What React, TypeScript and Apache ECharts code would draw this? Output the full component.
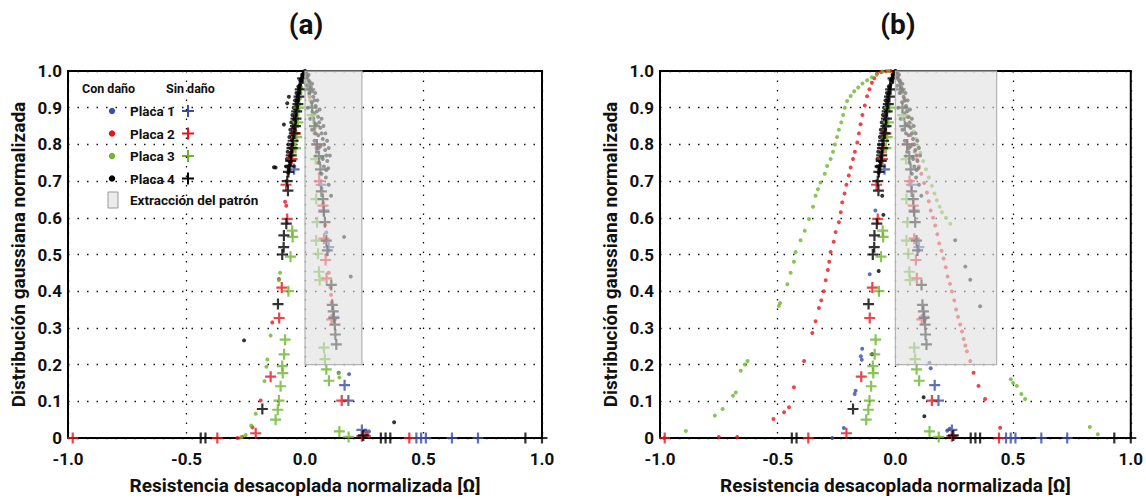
import React, { useEffect, useRef } from "react";
import * as echarts from "echarts";

// ---------- data ----------
const xTicks = ["-1.0", "-0.5", "0.0", "0.5", "1.0"];
const yTicks = ["0", "0.1", "0.2", "0.3", "0.4", "0.5", "0.6", "0.7", "0.8", "0.9", "1.0"];
const panelTitles = ["(a)", "(b)"];
const plateNames = ["Placa 1", "Placa 2", "Placa 3", "Placa 4"];
const patternBoxA = [0, 0.2, 0.24, 1.0];
const patternBoxB = [0, 0.2, 0.43, 1.0];

// Sin daño (crosses) – same in both panels
const blueCross = [[-0.046, 0.732], [0.068, 0.69], [0.079, 0.62], [0.1, 0.52], [0.122, 0.33], [0.167, 0.144], [0.183, 0.102], [0.24, 0.022], [0.47, 0], [0.49, 0], [0.51, 0], [0.62, 0], [0.73, 0]];
const redCross = [[-0.04, 0.83], [-0.05, 0.79], [-0.055, 0.76], [-0.08, 0.69], [-0.075, 0.597], [-0.098, 0.41], [-0.109, 0.327], [-0.145, 0.167], [-0.208, 0.013], [0.05, 0.8], [0.06, 0.7], [0.076, 0.633], [0.08, 0.543], [0.087, 0.485], [0.091, 0.435], [0.112, 0.323], [0.155, 0.102], [0.24, 0.005], [-0.98, 0], [-0.37, 0], [0.44, 0]];
const greenCross = [[-0.025, 0.9], [-0.03, 0.86], [-0.035, 0.82], [-0.04, 0.79], [-0.054, 0.565], [-0.052, 0.548], [-0.061, 0.494], [-0.07, 0.4], [-0.084, 0.268], [-0.088, 0.228], [-0.096, 0.196], [-0.094, 0.177], [-0.103, 0.141], [-0.11, 0.102], [-0.115, 0.077], [-0.124, 0.05], [0.03, 0.88], [0.045, 0.76], [0.047, 0.651], [0.051, 0.588], [0.047, 0.538], [0.055, 0.502], [0.059, 0.453], [0.062, 0.43], [0.08, 0.246], [0.084, 0.215], [0.09, 0.187], [0.101, 0.156], [0.145, 0.018], [0.184, 0.003]];
const blackCross = [[-0.01, 0.98], [-0.02, 0.95], [-0.025, 0.93], [-0.03, 0.91], [-0.035, 0.89], [-0.038, 0.87], [-0.04, 0.85], [-0.045, 0.83], [-0.05, 0.81], [-0.055, 0.79], [-0.058, 0.77], [-0.06, 0.755], [-0.065, 0.74], [-0.07, 0.725], [-0.075, 0.7], [-0.072, 0.674], [-0.079, 0.584], [-0.089, 0.552], [-0.09, 0.52], [-0.096, 0.5], [-0.114, 0.365], [-0.18, 0.079], [0.02, 0.95], [0.03, 0.9], [0.04, 0.85], [0.05, 0.8], [0.059, 0.768], [0.065, 0.732], [0.069, 0.672], [0.076, 0.651], [0.08, 0.617], [0.084, 0.588], [0.09, 0.538], [0.094, 0.511], [0.111, 0.417], [0.115, 0.363], [0.119, 0.345], [0.122, 0.327], [0.126, 0.309], [0.128, 0.282], [0.132, 0.255], [0.246, 0.007], [-0.44, 0], [-0.42, 0], [0.32, 0], [0.34, 0], [0.36, 0], [0.93, 0], [1.0, 0]];

// Con daño (dots) – central black cluster, common to both panels
const blackCoreDots = [[0, 1], [-0.003, 0.998], [-0.006, 0.993], [-0.008, 0.99], [-0.011, 0.985], [-0.014, 0.98], [-0.016, 0.975], [-0.019, 0.968], [-0.021, 0.962], [-0.024, 0.955], [-0.026, 0.948], [-0.028, 0.94], [-0.031, 0.932], [-0.033, 0.924], [-0.035, 0.915], [-0.037, 0.905], [-0.039, 0.896], [-0.041, 0.886], [-0.043, 0.876], [-0.045, 0.866], [-0.047, 0.855], [-0.049, 0.845], [-0.051, 0.834], [-0.053, 0.823], [-0.055, 0.812], [-0.057, 0.8], [-0.059, 0.789], [-0.061, 0.777], [-0.063, 0.765], [-0.065, 0.753], [-0.067, 0.742], [-0.069, 0.731], [-0.071, 0.722], [-0.012, 0.99], [-0.02, 0.975], [-0.028, 0.958], [-0.036, 0.94], [-0.042, 0.92], [-0.048, 0.9], [-0.053, 0.88], [-0.058, 0.86], [-0.062, 0.84], [-0.066, 0.82], [-0.07, 0.8], [-0.073, 0.78], [-0.076, 0.76], [-0.078, 0.74], [0.005, 0.995], [0.01, 0.985], [0.015, 0.975], [0.02, 0.97], [0.008, 0.96], [0.025, 0.955], [0.03, 0.945], [0.018, 0.94], [0.035, 0.93], [0.04, 0.92], [0.028, 0.915], [0.045, 0.905], [0.012, 0.9], [0.05, 0.89], [0.038, 0.885], [0.055, 0.875], [0.022, 0.87], [0.06, 0.86], [0.047, 0.855], [0.065, 0.845], [0.03, 0.84], [0.07, 0.83], [0.056, 0.825], [0.075, 0.815], [0.04, 0.81], [0.08, 0.8], [0.065, 0.795], [0.085, 0.785], [0.05, 0.78], [0.09, 0.77], [0.072, 0.765], [0.094, 0.755], [0.06, 0.75], [0.08, 0.74], [0.098, 0.735], [0.07, 0.72], [0.088, 0.71], [0.1, 0.69], [0.11, 0.66], [0.015, 0.99], [0.03, 0.965], [0.043, 0.94], [0.052, 0.92], [0.062, 0.895], [0.07, 0.87], [0.078, 0.85], [0.086, 0.83], [0.093, 0.81], [0.1, 0.79], [0.105, 0.77], [0.035, 0.87], [0.045, 0.83], [0.058, 0.79], [0.075, 0.76], [0.09, 0.73]];
const blackStrayA = [[-0.068, 0.93], [-0.075, 0.912], [-0.089, 0.854], [-0.124, 0.737], [-0.131, 0.738], [-0.257, 0.266], [0.376, 0.043], [0.165, 0.548], [0.193, 0.44]];
const blackStrayB = [[-0.056, 0.66], [-0.051, 0.608], [-0.071, 0.455], [-0.099, 0.228], [0.12, 0.111], [0.123, 0.059], [0.254, 0.539], [0.297, 0.467], [0.318, 0.431], [0.36, 0.359]];

const blueDotsA = [[0, 1], [0.008, 0.985], [0.004, 0.965], [0.015, 0.95], [-0.03, 0.92], [-0.045, 0.74], [0.09, 0.56], [0.186, 0.174], [0.142, 0.178], [0.27, 0.018], [0.255, 0.02]];
const redDotsA = [[-0.02, 0.96], [-0.03, 0.93], [-0.038, 0.9], [-0.045, 0.87], [-0.05, 0.845], [-0.055, 0.82], [-0.06, 0.79], [-0.064, 0.77], [-0.084, 0.644], [-0.079, 0.633], [-0.11, 0.433], [-0.138, 0.315], [-0.187, 0.102], [-0.222, 0.029], [-0.264, 0.003], [-0.285, 0], [0.02, 0.93], [0.03, 0.88], [0.04, 0.83], [0.048, 0.79], [0.055, 0.75], [0.062, 0.72], [0.07, 0.68], [0.077, 0.64], [0.085, 0.58], [0.093, 0.5], [0.1, 0.45], [0.107, 0.41], [0.11, 0.39], [0.113, 0.37], [0.26, 0.012], [0.27, 0.005]];
const greenDotsA = [[-0.005, 0.985], [-0.01, 0.97], [-0.015, 0.955], [-0.018, 0.94], [-0.022, 0.925], [-0.025, 0.91], [-0.028, 0.895], [-0.031, 0.88], [-0.034, 0.865], [-0.037, 0.85], [-0.04, 0.835], [-0.043, 0.82], [-0.046, 0.8], [-0.049, 0.785], [-0.052, 0.77], [0.005, 0.98], [0.01, 0.965], [0.014, 0.95], [0.018, 0.935], [0.022, 0.92], [0.026, 0.905], [0.03, 0.89], [0.034, 0.875], [0.038, 0.86], [0.042, 0.845], [-0.105, 0.45], [-0.11, 0.43], [-0.145, 0.279], [-0.159, 0.214], [-0.163, 0.194], [-0.171, 0.155], [-0.208, 0.066], [-0.227, 0.034], [-0.27, 0.002], [-0.25, 0.008], [0.143, 0.178], [0.145, 0.165]];

const blueDotsB = [[0, 1], [0.01, 0.98], [-0.085, 0.62], [-0.109, 0.446], [-0.141, 0.243], [-0.147, 0.223], [-0.143, 0.213], [-0.169, 0.129], [-0.173, 0.12], [-0.219, 0.027], [-0.268, 0], [0.145, 0.205], [0.15, 0.19], [0.22, 0.02], [0.23, 0.025]];
const redDotsB = [[-0.02, 1], [-0.04, 0.999], [-0.06, 0.997], [-0.078, 0.993], [-0.09, 0.98], [-0.1, 0.968], [-0.11, 0.95], [-0.12, 0.931], [-0.13, 0.906], [-0.14, 0.88], [-0.148, 0.855], [-0.155, 0.83], [-0.162, 0.805], [-0.172, 0.78], [-0.18, 0.76], [-0.19, 0.737], [-0.198, 0.715], [-0.208, 0.69], [-0.216, 0.666], [-0.226, 0.642], [-0.232, 0.615], [-0.24, 0.588], [-0.254, 0.561], [-0.262, 0.535], [-0.275, 0.507], [-0.281, 0.48], [-0.287, 0.458], [-0.296, 0.43], [-0.304, 0.4], [-0.315, 0.375], [-0.325, 0.354], [-0.339, 0.318], [-0.353, 0.286], [-0.388, 0.21], [-0.431, 0.138], [-0.452, 0.084], [-0.473, 0.07], [-0.518, 0.052], [-0.672, 0.003], [-0.75, 0.003], [-0.982, 0], [0.01, 0.995], [0.02, 0.975], [0.03, 0.95], [0.037, 0.925], [0.043, 0.9], [0.05, 0.875], [0.056, 0.85], [0.065, 0.825], [0.073, 0.8], [0.082, 0.78], [0.092, 0.759], [0.1, 0.74], [0.11, 0.72], [0.122, 0.695], [0.134, 0.669], [0.142, 0.645], [0.15, 0.62], [0.16, 0.6], [0.169, 0.579], [0.178, 0.555], [0.186, 0.53], [0.196, 0.51], [0.205, 0.489], [0.214, 0.465], [0.222, 0.44], [0.232, 0.42], [0.24, 0.399], [0.25, 0.375], [0.258, 0.35], [0.266, 0.33], [0.275, 0.309], [0.283, 0.29], [0.29, 0.27], [0.297, 0.252], [0.304, 0.236], [0.318, 0.21], [0.332, 0.178], [0.353, 0.142], [0.381, 0.106], [0.445, 0.028]];
const greenDotsB = [[-0.03, 1], [-0.055, 0.998], [-0.08, 0.99], [-0.1, 0.983], [-0.12, 0.975], [-0.14, 0.966], [-0.158, 0.955], [-0.175, 0.945], [-0.19, 0.932], [-0.205, 0.918], [-0.215, 0.9], [-0.222, 0.88], [-0.23, 0.86], [-0.24, 0.84], [-0.248, 0.82], [-0.257, 0.8], [-0.265, 0.78], [-0.275, 0.76], [-0.29, 0.741], [-0.3, 0.72], [-0.318, 0.696], [-0.329, 0.678], [-0.339, 0.66], [-0.35, 0.63], [-0.367, 0.597], [-0.385, 0.565], [-0.403, 0.539], [-0.424, 0.507], [-0.431, 0.48], [-0.445, 0.45], [-0.459, 0.419], [-0.49, 0.368], [-0.495, 0.36], [-0.628, 0.21], [-0.64, 0.2], [-0.657, 0.183], [-0.678, 0.124], [-0.69, 0.115], [-0.734, 0.079], [-0.767, 0.061], [-0.89, 0.019], [0.01, 0.99], [0.02, 0.965], [0.03, 0.94], [0.04, 0.918], [0.049, 0.895], [0.058, 0.875], [0.068, 0.855], [0.078, 0.835], [0.088, 0.815], [0.097, 0.795], [0.106, 0.777], [0.118, 0.755], [0.13, 0.732], [0.142, 0.71], [0.155, 0.687], [0.166, 0.666], [0.176, 0.648], [0.188, 0.63], [0.198, 0.615], [0.215, 0.6], [0.233, 0.584], [0.49, 0.16], [0.5, 0.15], [0.516, 0.142], [0.535, 0.12], [0.551, 0.106], [0.826, 0.03], [0.86, 0.01]];

// ---------- styling ----------
const FONT = "Roboto, 'Liberation Sans', sans-serif";
const COLORS = ["#3b4ea3", "#e3161d", "#6cb52d", "#000000"];
const CROSS = "path://M4,0H6V10H4ZM0,4H10V6H0Z";

function buildPanel(idx: number, dots: number[][][], box: number[]) {
  const series: any[] = [];
  dots.forEach((d, i) => {
    series.push({
      type: "scatter", xAxisIndex: idx, yAxisIndex: idx, data: d,
      symbol: "circle", symbolSize: 4, z: 2,
      itemStyle: { color: COLORS[i] },
    });
  });
  [blueCross, redCross, greenCross, blackCross].forEach((d, i) => {
    series.push({
      type: "scatter", xAxisIndex: idx, yAxisIndex: idx, data: d,
      symbol: CROSS, symbolSize: 11, z: 3,
      itemStyle: { color: COLORS[i] },
    });
  });
  // semi-transparent "Extracción del patrón" rectangle, drawn above the marks
  series.push({
    type: "custom", xAxisIndex: idx, yAxisIndex: idx, z: 10, silent: true,
    data: [box],
    encode: { x: [0, 2], y: [1, 3] },
    renderItem: (_p: any, api: any) => {
      const a = api.coord([api.value(0), api.value(1)]);
      const b = api.coord([api.value(2), api.value(3)]);
      return {
        type: "rect",
        shape: { x: a[0], y: b[1], width: b[0] - a[0], height: a[1] - b[1] },
        style: { fill: "rgba(222,222,222,0.58)", stroke: "#b4b4b4", lineWidth: 1.2 },
      };
    },
  });
  return series;
}

function axisX(gridIndex: number) {
  return {
    type: "value", gridIndex, min: -1, max: 1, interval: 0.5,
    name: "Resistencia desacoplada normalizada [Ω]", nameLocation: "middle", nameGap: 38,
    nameTextStyle: { fontFamily: FONT, fontWeight: "bold", fontSize: 19, color: "#111" },
    axisLine: { show: true, onZero: false, lineStyle: { color: "#000", width: 2 } },
    axisTick: { show: false },
    axisLabel: { fontFamily: FONT, fontWeight: "bold", fontSize: 17, color: "#111", margin: 12, formatter: (v: number) => xTicks[Math.round((v + 1) / 0.5)] },
    splitLine: { show: true, lineStyle: { color: "#111", width: 1.3, type: [1.5, 8] } },
  };
}
function axisY(gridIndex: number) {
  return {
    type: "value", gridIndex, min: 0, max: 1, interval: 0.1,
    name: "Distribución gaussiana normalizada", nameLocation: "middle", nameGap: 40,
    nameTextStyle: { fontFamily: FONT, fontWeight: "bold", fontSize: 19, color: "#111" },
    axisLine: { show: true, onZero: false, lineStyle: { color: "#000", width: 2 } },
    axisTick: { show: false },
    axisLabel: { fontFamily: FONT, fontWeight: "bold", fontSize: 17, color: "#111", margin: 6, formatter: (v: number) => yTicks[Math.round(v * 10)] },
    splitLine: { show: true, lineStyle: { color: "#111", width: 1.3, type: [1.5, 8] } },
  };
}

function legendGraphic() {
  const els: any[] = [];
  const tf = { fontFamily: FONT, fontWeight: "bold", fontSize: 13.5, fill: "#111" };
  els.push({ type: "text", x: 82, y: 88, style: { ...tf, text: "Con daño", fontSize: 12.5, textVerticalAlign: "middle" } });
  els.push({ type: "text", x: 166, y: 88, style: { ...tf, text: "Sin daño", fontSize: 12.5, textVerticalAlign: "middle" } });
  const rows = [111, 133.5, 156, 178.5];
  plateNames.forEach((n, i) => {
    const y = rows[i];
    els.push({ type: "circle", shape: { cx: 112, cy: y, r: 3.2 }, style: { fill: COLORS[i] } });
    els.push({ type: "text", x: 130, y: y, style: { ...tf, text: n, textVerticalAlign: "middle" } });
    els.push({ type: "rect", shape: { x: 182, y: y - 1, width: 12, height: 2 }, style: { fill: COLORS[i] } });
    els.push({ type: "rect", shape: { x: 187, y: y - 6, width: 2, height: 12 }, style: { fill: COLORS[i] } });
  });
  els.push({ type: "rect", shape: { x: 108, y: 192, width: 10, height: 16 }, style: { fill: "#ececec", stroke: "#9a9a9a", lineWidth: 1 } });
  els.push({ type: "text", x: 130, y: 200, style: { ...tf, text: "Extracción del patrón", textVerticalAlign: "middle" } });
  return els;
}

export default function App() {
  const ref = useRef<HTMLDivElement>(null);
  useEffect(() => {
    if (!ref.current) return;
    const chart = echarts.init(ref.current, undefined, { renderer: "svg" });
    const option: any = {
      animation: false,
      backgroundColor: "#fff",
      title: [
        { text: panelTitles[0], left: 301, top: 5, textAlign: "center", textStyle: { fontFamily: FONT, fontWeight: "bold", fontSize: 28, color: "#111" } },
        { text: panelTitles[1], left: 893, top: 5, textAlign: "center", textStyle: { fontFamily: FONT, fontWeight: "bold", fontSize: 28, color: "#111" } },
      ],
      grid: [
        { left: 68, top: 71, width: 474, height: 370, show: true, borderColor: "#000", borderWidth: 2, backgroundColor: "transparent" },
        { left: 660, top: 71, width: 471, height: 370, show: true, borderColor: "#000", borderWidth: 2, backgroundColor: "transparent" },
      ],
      xAxis: [axisX(0), axisX(1)],
      yAxis: [axisY(0), axisY(1)],
      series: [
        ...buildPanel(0, [blueDotsA, redDotsA, greenDotsA, [...blackCoreDots, ...blackStrayA]], patternBoxA),
        ...buildPanel(1, [blueDotsB, redDotsB, greenDotsB, [...blackCoreDots, ...blackStrayB]], patternBoxB),
      ],
      graphic: legendGraphic(),
    };
    chart.setOption(option);
    return () => chart.dispose();
  }, []);
  return <div ref={ref} style={{ position: "absolute", left: 0, top: 0, width: 1146, height: 500 }} />;
}
